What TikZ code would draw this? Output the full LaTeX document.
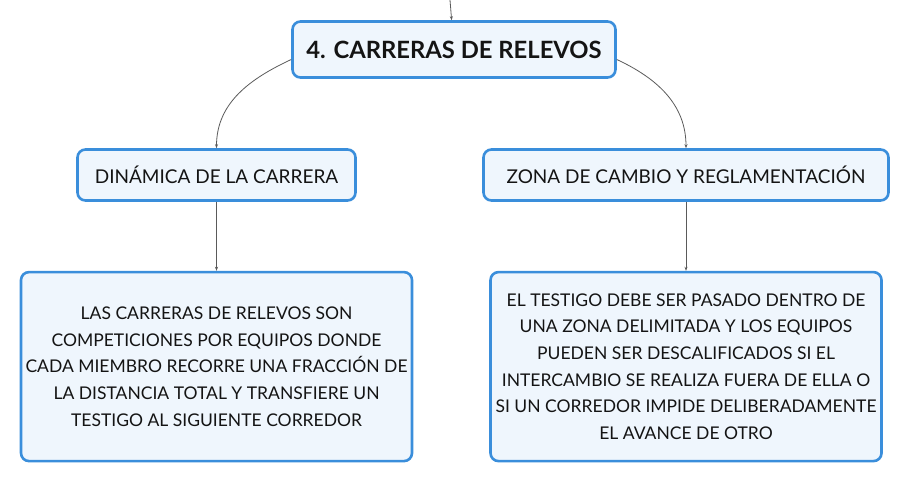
\documentclass[tikz,border=0pt]{standalone}
\usepackage{fontspec}
\setmainfont{Lato}
\usetikzlibrary{positioning, arrows.meta}
\definecolor{boxblue}{HTML}{3A8EDB}
\definecolor{boxfill}{HTML}{EFF6FD}
\definecolor{linkgray}{HTML}{5A5A5A}
\definecolor{inkblack}{HTML}{141414}

\begin{document}
\begin{tikzpicture}[
  x=1pt,
  y=-1pt,
  every node/.style={
    text=inkblack,
    inner sep=0mm
  },
  topic/.style={
    draw=boxblue,
    fill=boxfill,
    line width=2.6pt,
    rounded corners=8pt,
    align=center
  },
  central/.style={
    topic,
    minimum width=323pt,
    minimum height=56pt,
    font=\fontsize{23.8}{28}\selectfont\bfseries
  },
  branch/.style={
    topic,
    minimum height=51pt,
    font=\fontsize{19}{22}\selectfont
  },
  detail/.style={
    topic,
    minimum width=391pt,
    minimum height=189pt,
    font=\fontsize{17.5}{26.7}\selectfont
  },
  link/.style={
    -{Stealth[length=4pt, width=3pt]},
    draw=linkgray,
    line width=0.8pt
  }
]

\useasboundingbox (0,0) rectangle (910,483);

\node(relevos)[central] at (454,49.5) {4. CARRERAS DE RELEVOS};

\node(dinamica)[branch, minimum width=278pt] at (216.5,175) {DINÁMICA DE LA CARRERA};
\node(zona)[branch, minimum width=405pt] at (686,175) {ZONA DE CAMBIO Y REGLAMENTACIÓN};

\node(dinamicatxt)[detail, below=69pt of dinamica] {LAS CARRERAS DE RELEVOS SON\\COMPETICIONES POR EQUIPOS DONDE\\CADA MIEMBRO RECORRE UNA FRACCIÓN DE\\LA DISTANCIA TOTAL Y TRANSFIERE UN\\TESTIGO AL SIGUIENTE CORREDOR};
\node(zonatxt)[detail, below=69pt of zona] {EL TESTIGO DEBE SER PASADO DENTRO DE\\UNA ZONA DELIMITADA Y LOS EQUIPOS\\PUEDEN SER DESCALIFICADOS SI EL\\INTERCAMBIO SE REALIZA FUERA DE ELLA O\\SI UN CORREDOR IMPIDE DELIBERADAMENTE\\EL AVANCE DE OTRO};

\coordinate(parent) at (450,0);

\draw[link] (parent) -- (relevos);
\draw[link] ([yshift=-10pt]relevos.west) to[out=205, in=90] (dinamica.north);
\draw[link] ([yshift=-10pt]relevos.east) to[out=-25, in=90] (zona.north);
\draw[link] (dinamica) -- (dinamicatxt);
\draw[link] (zona) -- (zonatxt);

\end{tikzpicture}
\end{document}
